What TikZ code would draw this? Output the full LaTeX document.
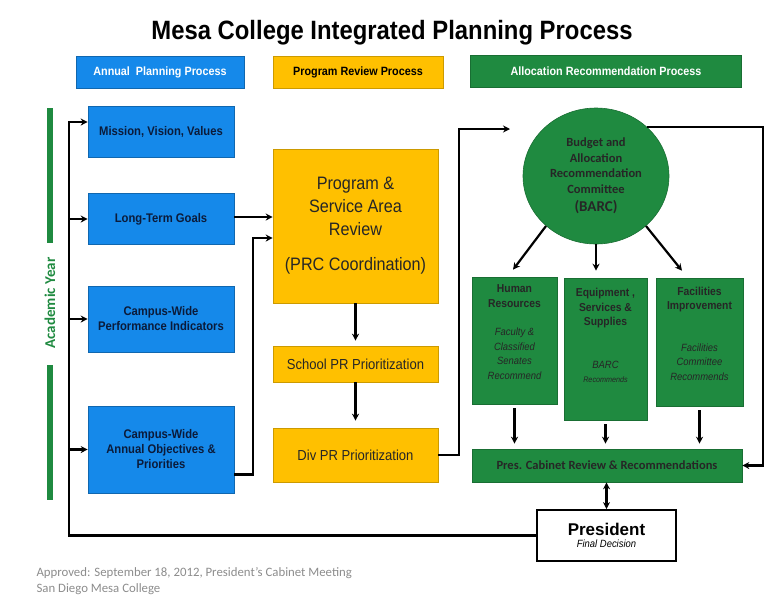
\documentclass[tikz,border=0pt]{standalone}
\usepackage{fontspec}
\setmainfont{Liberation Sans}
\newfontfamily\condfont[FakeStretch=0.9]{Liberation Sans}
\newfontfamily\calfont{Carlito}
\usetikzlibrary{arrows.meta, positioning, shapes.geometric}

\definecolor{planBlue}{HTML}{1589EA}
\definecolor{reviewGold}{HTML}{FFC000}
\definecolor{allocGreen}{HTML}{1F8A40}
\definecolor{navyText}{HTML}{0B1B3A}
\definecolor{footGray}{HTML}{8C8C8C}

% italic note text inside the green boxes
\newcommand{\recnote}{\mdseries\itshape\fontsize{10.5}{13.5}\selectfont}

\begin{document}
\begin{tikzpicture}[
    x=1pt, y=-1pt,
    >={Stealth[length=7pt, width=7pt]},
    % Header boxes across the top
    headStyle/.style={
        minimum height=32pt, align=center, inner sep=0pt,
        font=\condfont\bfseries\fontsize{12}{14}\selectfont
    },
    % Blue boxes: annual planning
    planStyle/.style={
        fill=planBlue, draw=planBlue!75!black, line width=0.6pt,
        minimum width=146pt, align=center, inner sep=0pt, text=navyText,
        font=\condfont\bfseries\fontsize{12.5}{15}\selectfont
    },
    % Gold boxes: program review
    reviewStyle/.style={
        fill=reviewGold, draw=reviewGold!80!black, line width=0.6pt,
        minimum width=165pt, align=center, inner sep=0pt, text=black!85,
        font=\condfont\fontsize{14.5}{17}\selectfont
    },
    % Green boxes: allocation
    allocStyle/.style={
        fill=allocGreen, draw=allocGreen!80!black, line width=0.6pt,
        align=center, inner sep=0pt, text=black!85,
        font=\condfont\bfseries\fontsize{11.5}{14.5}\selectfont
    },
    % Thick black connectors
    flowStyle/.style={
        ->, line width=2.2pt
    }
]
\useasboundingbox (0,0) rectangle (776,595);

%--- Title and headers ---
\node[font=\condfont\bfseries\fontsize{26.5}{30}\selectfont] (title) at (392,33)
  {Mesa College Integrated Planning Process};
\node[headStyle, fill=planBlue, draw=planBlue!75!black, minimum width=168pt, text=white]
  (hPlan) at (160,72) {Annual\ \ Planning Process};
\node[headStyle, fill=reviewGold, draw=reviewGold!80!black, minimum width=170pt, text=black]
  (hReview) at (358,72) {Program Review Process};
\node[headStyle, fill=allocGreen, draw=allocGreen!80!black, minimum width=271pt, text=white]
  (hAlloc) at (606,71) {Allocation Recommendation Process};

%--- Academic year bar ---
\fill[allocGreen] (47,108) rectangle (53,243);
\fill[allocGreen] (47,365) rectangle (53,500);
\node[rotate=90, text=allocGreen, font=\calfont\bfseries\fontsize{15}{17}\selectfont]
  (year) at (50,303) {Academic Year};

%--- Annual planning column ---
\node[planStyle, minimum height=51pt] (mission)    at (161,132)   {Mission, Vision, Values};
\node[planStyle, minimum height=51pt] (goals)      at (161,219)   {Long-Term Goals};
\node[planStyle, minimum height=66pt] (indicators) at (161,319)   {Campus-Wide\\Performance Indicators};
\node[planStyle, minimum height=87pt] (objectives) at (161,449.5) {Campus-Wide\\Annual Objectives \&\\Priorities};

%--- Program review column ---
\node[reviewStyle, minimum height=154pt, font=\condfont\fontsize{18}{23}\selectfont]
  (review) at (355.5,226) {Program \&\\Service Area\\Review\\[12pt](PRC Coordination)};
\node[reviewStyle, minimum height=36pt] (school) at (355.5,364) {School PR Prioritization};
\node[reviewStyle, minimum height=54pt] (div)    at (355.5,455) {Div PR Prioritization};

%--- Allocation column ---
\node[allocStyle, ellipse, minimum width=146pt, minimum height=136pt,
      font=\calfont\bfseries\fontsize{12.5}{15.5}\selectfont]
  (barc) at (596,176)
  {Budget and\\Allocation\\Recommendation\\Committee\\[3pt]{\fontsize{15}{17}\selectfont (BARC)}};
\node[allocStyle, minimum width=85pt, minimum height=127pt] (human) at (514.5,340.5)
  {Human\\Resources\\[14pt]{\recnote Faculty \&}\\{\recnote Classified}\\{\recnote Senates}\\{\recnote Recommend}\\[2pt]~};
\node[allocStyle, minimum width=83pt, minimum height=142pt] (equip) at (605.5,349)
  {Equipment ,\\Services \&\\Supplies\\[28pt]{\recnote BARC}\\{\recnote\fontsize{8}{9}\selectfont Recommends}\\[12pt]~};
\node[allocStyle, minimum width=87pt, minimum height=128pt] (facil) at (699.5,342)
  {Facilities\\Improvement\\[27pt]{\recnote Facilities}\\{\recnote Committee}\\{\recnote Recommends}\\[2pt]~};
\node[allocStyle, minimum width=270pt, minimum height=33pt,
      font=\calfont\bfseries\fontsize{12.5}{14}\selectfont]
  (cabinet) at (607,465.5) {Pres. Cabinet Review \& Recommendations};
\node[draw, line width=1.8pt, fill=white, minimum width=139pt, minimum height=51pt,
      align=center, inner sep=0pt]
  (president) at (606.5,535.5)
  {{\bfseries\fontsize{17}{20}\selectfont President}\\{\condfont\itshape\fontsize{10.5}{12}\selectfont Final Decision}};

%--- Footer ---
\node[anchor=west, align=left, text=footGray, font=\calfont\fontsize{12.8}{15.5}\selectfont]
  (note) at (33,581) {Approved: September 18, 2012, President’s Cabinet Meeting\\San Diego Mesa College};

%-----------------------
%        Edges
%-----------------------
% (1) President back round to the planning boxes
\coordinate (loopTop) at (69,122);
\draw[flowStyle] (president.west) -| (loopTop) -- (loopTop -| mission.west);
\foreach \n in {goals, indicators, objectives}
  \draw[flowStyle] (loopTop |- \n.west) -- (\n.west);

% (2) Goals and objectives feed the review
\draw[flowStyle] ([yshift=2pt]goals.east) -- ([yshift=2pt]goals.east -| review.west);
\coordinate (objTurn) at (253,238);
\draw[flowStyle] ([yshift=-25pt]objectives.east) -| (objTurn) -- (objTurn -| review.west);

% (3) Review down to prioritization
\draw[flowStyle, shorten >=5pt] (review.south) -- (school.north);
\draw[flowStyle, shorten >=7pt] (school.south) -- (div.north);

% (4) Div PR up to BARC
\coordinate (divTurn) at (459,129);
\coordinate (barcIn) at (510,129);
\draw[flowStyle] (div.east) -| (divTurn) -- (barcIn);

% (5) BARC to the three areas
\draw[flowStyle] (barc.-135) -- ([shift={(-1.5pt,7pt)}]human.north);
\draw[flowStyle, shorten >=7pt] (barc.south) -- (barc.south |- equip.north);
\draw[flowStyle] (barc.-45) -- ([shift={(-17.5pt,7pt)}]facil.north);

% (6) Areas down to the cabinet
\foreach \n in {human, equip, facil}
  \draw[flowStyle, shorten <=4pt, shorten >=5pt] (\n.south) -- (\n.south |- cabinet.north);

% (7) BARC round to the cabinet
\coordinate (rightTurn) at (763,126);
\draw[flowStyle] (barc.44) -- (barc.44 -| rightTurn) |- (cabinet.east);

% (8) Cabinet <-> President
\draw[flowStyle, <->] (president.north) -- (president.north |- cabinet.south);
\end{tikzpicture}
\end{document}
